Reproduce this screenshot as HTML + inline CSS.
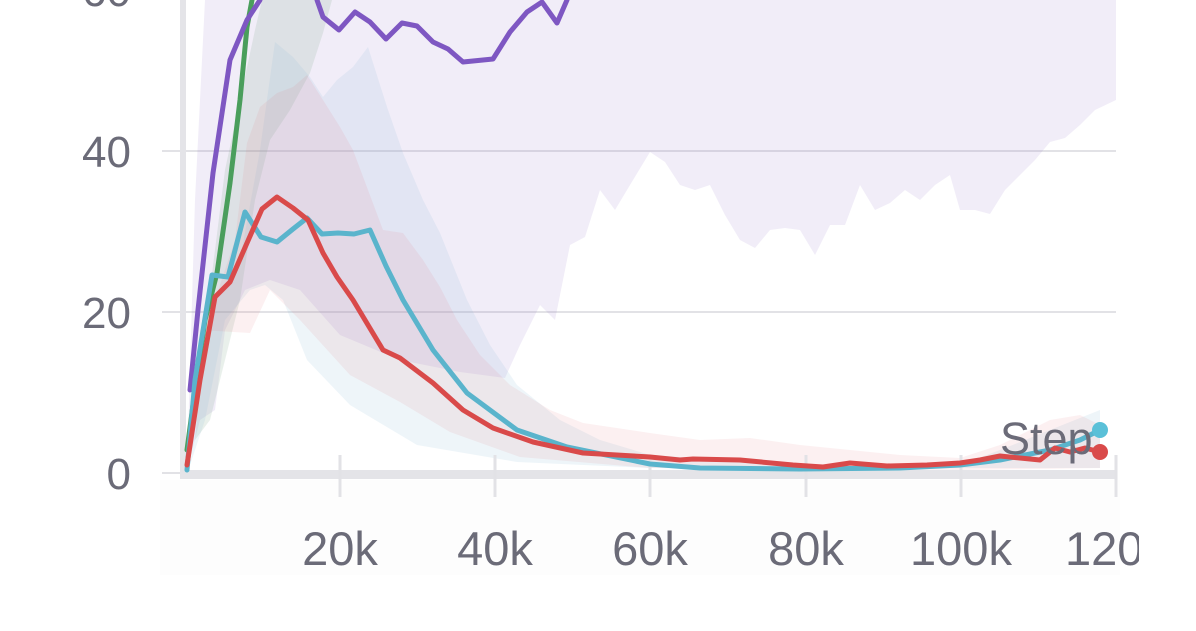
<!DOCTYPE html>
<html><head><meta charset="utf-8"><style>
html,body{margin:0;padding:0;background:#fff;}
svg{display:block;}
text{font-family:"Liberation Sans",sans-serif;fill:#6b6b78;}
</style></head><body>
<svg width="1196" height="631" viewBox="0 0 1196 631" xmlns="http://www.w3.org/2000/svg">
<rect x="160" y="480" width="960" height="95" fill="#fdfdfd"/>
<g stroke="#e2e2e6" stroke-width="2">
<line x1="162" y1="151" x2="1116" y2="151"/>
<line x1="162" y1="312" x2="1116" y2="312"/>
<line x1="162" y1="473" x2="1116" y2="473"/>
</g>
<path fill="rgba(126,87,194,0.11)" d="M187,470 L195,200 L205,0 L1116,0 L1116,100 L1095,110 L1080,125 L1065,138 L1050,142 L1035,160 L1020,175 L1005,190 L990,214 L975,210 L960,210 L950,175 L935,185 L920,200 L905,190 L890,203 L875,210 L860,185 L845,225 L830,225 L815,255 L800,230 L785,228 L770,230 L755,248 L740,240 L725,215 L710,185 L695,190 L680,185 L665,162 L650,152 L630,185 L615,210 L600,190 L585,237 L570,245 L555,320 L540,305 L520,345 L505,378 L460,372 L400,360 L340,335 L300,290 L270,280 L245,290 L225,330 L215,410 L200,420 Z"/>
<path fill="rgba(120,160,130,0.16)" d="M195,440 L205,330 L225,170 L240,100 L255,30 L262,0 L332,0 L323,33 L310,73 L290,110 L270,140 L255,200 L240,300 L225,360 L210,420 Z"/>
<path fill="rgba(140,185,215,0.15)" d="M190,465 L200,380 L215,300 L240,260 L260,150 L275,42 L293,57 L310,77 L323,97 L337,80 L353,67 L368,47 L387,107 L403,153 L423,200 L440,233 L467,300 L490,345 L517,385 L560,420 L600,440 L650,455 L800,465 L960,465 L1000,450 L1050,430 L1100,410 L1100,468 L650,468 L517,462 L417,445 L350,405 L307,360 L283,300 L265,285 L250,290 L225,320 L205,420 Z"/>
<path fill="rgba(225,110,120,0.10)" d="M188,470 L200,360 L215,300 L235,240 L247,143 L260,107 L277,93 L293,87 L307,75 L323,100 L340,127 L353,150 L383,230 L403,233 L423,260 L440,287 L457,320 L480,355 L510,385 L550,410 L583,423 L650,433 L700,440 L750,438 L800,445 L850,450 L900,455 L960,458 L1000,445 L1050,420 L1080,415 L1100,425 L1100,468 L960,470 L650,468 L520,457 L450,432 L400,402 L350,375 L300,320 L270,290 L250,333 L200,330 Z"/>
<rect x="180" y="0" width="6" height="478" fill="#e4e4e8"/>
<rect x="180" y="470" width="936" height="9" fill="#e4e4e8"/>
<g stroke="#e2e2e6" stroke-width="3">
<line x1="340" y1="455" x2="340" y2="497"/>
<line x1="495" y1="455" x2="495" y2="497"/>
<line x1="650" y1="455" x2="650" y2="497"/>
<line x1="806" y1="455" x2="806" y2="497"/>
<line x1="961" y1="455" x2="961" y2="497"/>
<line x1="1116" y1="455" x2="1116" y2="497"/>
</g>
<g fill="none" stroke-width="5" stroke-linejoin="round" stroke-linecap="round">
<polyline stroke="#4a9e5c" points="187,450 195,390 205,320 217,273 230,183 240,100 247,27 252,0"/>
<polyline stroke="#7e57c2" points="190,390 198,310 213,173 230,60 247,20 260,0"/>
<polyline stroke="#7e57c2" points="317,0 323,17 339,30 355,12 370,22 386,39 402,23 417,26 433,42 448,49 463,62 493,59 510,32 527,12 542,2 557,23 567,0"/>
<polyline stroke="#5ab4cc" points="187,470 195,380 212,275 228,277 245,212 261,237 277,242 293,229 307,218 322,234 338,233 354,234 370,230 386,266 403,300 433,350 467,393 517,430 567,447 650,464 700,468 800,469 900,468 960,465 1000,460 1050,450 1080,440 1100,430"/>
<polyline stroke="#d94a4a" points="187,465 200,380 215,297 230,282 247,243 262,209 277,197 293,208 308,220 323,253 337,277 353,300 383,350 400,358 433,383 463,410 493,428 533,442 583,453 650,457 680,460 693,459 740,460 793,465 823,467 850,463 887,466 927,465 960,463 980,460 1000,456 1020,458 1040,460 1055,448 1070,452 1085,448 1100,452"/>
</g>
<circle cx="1100" cy="430" r="8" fill="#5ac0d8"/>
<circle cx="1100" cy="452" r="8" fill="#d94a4a"/>
<text x="1000" y="454" font-size="45">Step</text>
<g font-size="44" text-anchor="end">
<text x="131" y="167">40</text>
<text x="131" y="328">20</text>
<text x="131" y="489">0</text>
<text x="131" y="6">60</text>
</g>
<g font-size="47" text-anchor="middle">
<text x="340" y="565">20k</text>
<text x="495" y="565">40k</text>
<text x="650" y="565">60k</text>
<text x="806" y="565">80k</text>
<text x="961" y="565">100k</text>
<text x="1116" y="565">120k</text>
</g>
<rect x="1139" y="500" width="57" height="80" fill="#fff"/>
</svg>
</body></html>
